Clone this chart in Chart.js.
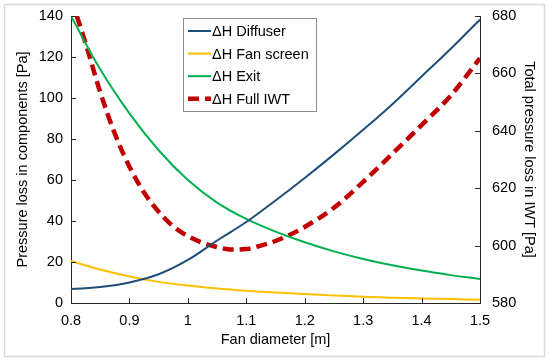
<!DOCTYPE html>
<html>
<head>
<meta charset="utf-8">
<script src="https://cdn.jsdelivr.net/npm/chart.js@4/dist/chart.umd.min.js"></script>
<style>
  html, body { margin: 0; padding: 0; background: #fff; }
  canvas { display: block; }
</style>
</head>
<body>
<canvas id="myChart" width="550" height="362"></canvas>
<script>
// fan diameter grid [m] for the component curves
var diameters = [0.8, 0.85, 0.9, 0.95, 1.0, 1.05, 1.1, 1.15, 1.2, 1.25, 1.3, 1.35, 1.4, 1.45, 1.5];
var diffuser  = [6.8, 7.8, 10, 14, 21, 30.5, 39.5, 50, 61, 72.5, 84.5, 97, 110.5, 124, 138.3];
var fanScreen = [20.5, 16.3, 12.9, 10.3, 8.5, 7.1, 6.0, 5.1, 4.4, 3.7, 3.1, 2.6, 2.2, 1.9, 1.6];
var exitLoss  = [140, 114, 92.5, 74.5, 60, 49, 41, 34.8, 29.6, 25.2, 21.5, 18.4, 15.8, 13.6, 11.7];

// total loss (right axis), read on its own grid
var fullDiam = [0.81, 0.825, 0.85, 0.875, 0.9, 0.925, 0.95, 0.975, 1.0, 1.025, 1.05, 1.075, 1.1, 1.125, 1.15, 1.175, 1.2, 1.25, 1.3, 1.35, 1.4, 1.45, 1.5];
var fullIwt  = [680, 670.5, 653.5, 639, 627.5, 618.5, 611.8, 606.7, 603.3, 601, 599.5, 598.6, 598.8, 600, 601.6, 603.8, 606.5, 613.2, 622.2, 632, 642, 652.3, 665.3];

var xTicks = [0.8, 0.9, 1.0, 1.1, 1.2, 1.3, 1.4, 1.5];
var xTickLabels = ['0.8', '0.9', '1', '1.1', '1.2', '1.3', '1.4', '1.5'];
var leftTicks = [0, 20, 40, 60, 80, 100, 120, 140];
var rightTicks = [580, 600, 620, 640, 660, 680];

var seriesLabels = ['\u0394H Diffuser', '\u0394H Fan screen', '\u0394H Exit', '\u0394H Full IWT'];

function pts(xs, ys) {
  return xs.map(function (x, i) { return { x: x, y: ys[i] }; });
}

var fontFamily = "'Liberation Sans', Arial, sans-serif";
var axisColor = '#262626';

var element = document.getElementById('myChart').getContext('2d');

var chartData = {
  datasets: [
    { label: seriesLabels[0], data: pts(diameters, diffuser), yAxisID: 'y', borderColor: '#1f4e79', borderWidth: 2, tension: 0.4 },
    { label: seriesLabels[1], data: pts(diameters, fanScreen), yAxisID: 'y', borderColor: '#ffc000', borderWidth: 2, tension: 0.4 },
    { label: seriesLabels[2], data: pts(diameters, exitLoss), yAxisID: 'y', borderColor: '#00b050', borderWidth: 2, tension: 0.4 },
    { label: seriesLabels[3], data: pts(fullDiam, fullIwt), yAxisID: 'y1', borderColor: '#c00000', borderWidth: 4.5, borderDash: [11, 6],
      cubicInterpolationMode: 'monotone' }
  ]
};
chartData.datasets.forEach(function (ds) {
  ds.pointRadius = 0;
  ds.fill = false;
});

// light frame round the whole picture
var framePlugin = {
  id: 'frame',
  beforeDraw: function (chart) {
    var c = chart.ctx;
    c.save();
    c.fillStyle = '#fff';
    c.fillRect(0, 0, chart.width, chart.height);
    c.strokeStyle = '#d9d9d9';
    c.lineWidth = 1.5;
    c.strokeRect(4.5, 4.5, 540, 352);
    c.restore();
  }
};

// excel style tick marks pointing inside the plot
var innerTicksPlugin = {
  id: 'innerTicks',
  afterDatasetsDraw: function (chart) {
    var c = chart.ctx, a = chart.chartArea, s = chart.scales;
    c.save();
    c.strokeStyle = axisColor;
    c.lineWidth = 1;
    c.beginPath();
    xTicks.forEach(function (v) {
      var px = Math.round(s.x.getPixelForValue(v)) + 0.5;
      c.moveTo(px, a.bottom); c.lineTo(px, a.bottom - 5);
    });
    leftTicks.forEach(function (v) {
      var py = Math.round(s.y.getPixelForValue(v)) + 0.5;
      c.moveTo(a.left, py); c.lineTo(a.left + 5, py);
    });
    rightTicks.forEach(function (v) {
      var py = Math.round(s.y1.getPixelForValue(v)) + 0.5;
      c.moveTo(a.right, py); c.lineTo(a.right - 5, py);
    });
    c.stroke();
    c.restore();
  }
};

// boxed legend sitting inside the plot
var boxLegendPlugin = {
  id: 'boxLegend',
  afterDatasetsDraw: function (chart) {
    var c = chart.ctx;
    var bx = 183.5, by = 18.5, bw = 133, bh = 93;
    c.save();
    c.fillStyle = '#fff';
    c.fillRect(bx, by, bw, bh);
    c.strokeStyle = '#8c8c8c';
    c.lineWidth = 1;
    c.strokeRect(bx, by, bw, bh);
    c.font = '14.5px ' + fontFamily;
    c.textBaseline = 'middle';
    c.fillStyle = '#000';
    chart.data.datasets.forEach(function (ds, i) {
      var y = 31 + i * 22.6;
      c.beginPath();
      c.strokeStyle = ds.borderColor;
      c.lineWidth = ds.borderWidth;
      c.setLineDash(ds.borderDash || []);
      c.moveTo(188, y); c.lineTo(211, y);
      c.stroke();
      c.setLineDash([]);
      c.fillText(ds.label, 212, y + 1);
    });
    c.restore();
  }
};

var tickFont = { family: fontFamily, size: 14.5 };
var titleFont = { family: fontFamily, size: 14.5 };

// fixed box sizes so the plot lands where the original has it
function fixSize(w, h) {
  return function (scale) {
    if (w) scale.width = w;
    if (h) scale.height = h;
    scale.paddingTop = 0; scale.paddingBottom = 0;
    scale.paddingLeft = 0; scale.paddingRight = 0;
  };
}

var chartOptions = {
  responsive: false,
  animation: false,
  layout: { padding: { left: 0, right: 0, top: 16, bottom: 0 } },
  plugins: { legend: { display: false }, tooltip: { enabled: false } },
  scales: {
    x: {
      type: 'linear', min: 0.8, max: 1.5,
      grid: { display: false, drawTicks: false },
      border: { display: true, color: axisColor, width: 1 },
      afterBuildTicks: function (scale) { scale.ticks = xTicks.map(function (v) { return { value: v }; }); },
      afterFit: fixSize(0, 59),
      ticks: { font: tickFont, color: '#000', padding: 9, maxRotation: 0, autoSkip: false,
        callback: function (v, i) { return xTickLabels[i]; } },
      title: { display: true, text: 'Fan diameter [m]', font: titleFont, color: '#000', padding: { top: 0, bottom: 13 } }
    },
    y: {
      type: 'linear', position: 'left', min: 0, max: 140,
      grid: { display: false, drawTicks: false },
      border: { display: true, color: axisColor, width: 1 },
      afterBuildTicks: function (scale) { scale.ticks = leftTicks.map(function (v) { return { value: v }; }); },
      afterFit: fixSize(71, 0),
      ticks: { font: tickFont, color: '#000', padding: 8 },
      title: { display: true, text: 'Pressure loss in components [Pa]', font: titleFont, color: '#000', padding: { top: 14, bottom: 0 } }
    },
    y1: {
      type: 'linear', position: 'right', min: 580, max: 680,
      grid: { display: false, drawTicks: false },
      border: { display: true, color: axisColor, width: 1 },
      afterBuildTicks: function (scale) { scale.ticks = rightTicks.map(function (v) { return { value: v }; }); },
      afterFit: fixSize(70, 0),
      ticks: { font: tickFont, color: '#000', padding: 12 },
      title: { display: true, text: 'Total pressure loss in IWT [Pa]', font: titleFont, color: '#000', padding: { top: 12, bottom: 0 } }
    }
  }
};

var chart = new Chart(element, {
  type: 'line',
  data: chartData,
  options: chartOptions,
  plugins: [framePlugin, innerTicksPlugin, boxLegendPlugin]
});
</script>
</body>
</html>
